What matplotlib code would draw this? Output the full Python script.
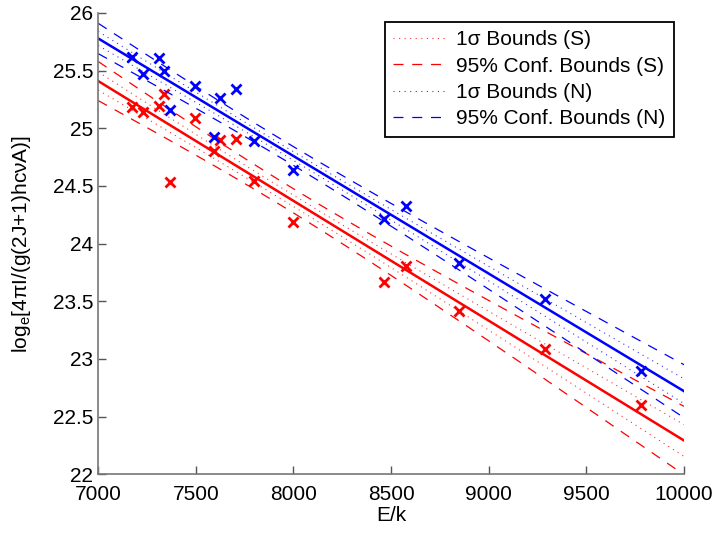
import numpy as np
import matplotlib
matplotlib.use("Agg")
import matplotlib.pyplot as plt

plt.rcParams['font.family'] = ['Liberation Sans', 'DejaVu Sans']
plt.rcParams['mathtext.fontset'] = 'custom'
plt.rcParams['mathtext.rm'] = 'Liberation Sans'
plt.rcParams['mathtext.it'] = 'Liberation Sans:italic'

# Data (E/k values, shared by both series)
energy = [7174, 7230, 7311, 7338, 7366, 7494, 7595, 7624, 7705, 7799,
          7996, 8462, 8575, 8849, 9286, 9778]
s_vals = [25.18, 25.14, 25.19, 25.30, 24.53, 25.09, 24.80, 24.90, 24.91, 24.54,
          24.19, 23.67, 23.81, 23.42, 23.09, 22.60]
n_vals = [25.62, 25.47, 25.61, 25.50, 25.16, 25.37, 24.92, 25.26, 25.34, 24.89,
          24.64, 24.21, 24.33, 23.83, 23.52, 22.90]
t95 = 2.145  # Student t, 14 dof

xticks = [7000, 7500, 8000, 8500, 9000, 9500, 10000]
yticks = [22, 22.5, 23, 23.5, 24, 24.5, 25, 25.5, 26]

fig = plt.figure(figsize=(7.17, 5.36), dpi=100)
ax = fig.add_axes([0.137, 0.115, 0.817, 0.861])

xg = np.linspace(7000, 10000, 200)

def fit_bands(x, y):
    x = np.asarray(x, float); y = np.asarray(y, float)
    n = len(x)
    p = np.polyfit(x, y, 1)
    res = y - np.polyval(p, x)
    s = np.sqrt(np.sum(res**2) / (n - 2))
    sxx = np.sum((x - x.mean())**2)
    se = s * np.sqrt(1.0 / n + (xg - x.mean())**2 / sxx)
    return np.polyval(p, xg), se

handles = []
for vals, col, tag in [(s_vals, 'red', 'S'), (n_vals, 'blue', 'N')]:
    yf, se = fit_bands(energy, vals)
    ax.plot(xg, yf, color=col, lw=1.8)
    h1, = ax.plot(xg, yf + se, color=col, ls=(0, (1, 4)), lw=0.8, alpha=0.8,
                  label='1σ Bounds (' + tag + ')')
    ax.plot(xg, yf - se, color=col, ls=(0, (1, 4)), lw=0.8, alpha=0.8)
    h2, = ax.plot(xg, yf + t95 * se, color=col, ls=(0, (8, 7)), lw=0.9,
                  label='95% Conf. Bounds (' + tag + ')')
    ax.plot(xg, yf - t95 * se, color=col, ls=(0, (8, 7)), lw=0.9)
    ax.plot(energy, vals, 'x', color=col, ms=7, mew=2)
    handles += [h1, h2]

ax.set_xlim(7000, 10000)
ax.set_ylim(22, 26)
ax.set_xticks(xticks)
ax.set_xticklabels([str(v) for v in xticks])
ax.set_yticks(yticks)
ax.set_yticklabels([('%g' % v) for v in yticks])
ax.tick_params(direction='in', length=6, labelsize=15, color='#555555', width=1)
ax.tick_params(axis='x', pad=8)
for side in ['top', 'right']:
    ax.spines[side].set_visible(False)
for side in ['left', 'bottom']:
    ax.spines[side].set_color('#777777')
    ax.spines[side].set_linewidth(1.2)

ax.set_xlabel('E/k', fontsize=15, labelpad=1)
ax.set_ylabel(r'log$_{\mathrm{e}}$[4πI/(g(2J+1)hcνA)]', fontsize=15, labelpad=14)

leg = ax.legend(handles=handles, loc='upper right', bbox_to_anchor=(0.983, 0.98),
                borderaxespad=0, fontsize=15, fancybox=False, framealpha=1,
                edgecolor='black', handlelength=2.5, handletextpad=0.55,
                labelspacing=0.35, borderpad=0.4)
leg.get_frame().set_linewidth(1.3)

fig.savefig('out.png', dpi=100)
